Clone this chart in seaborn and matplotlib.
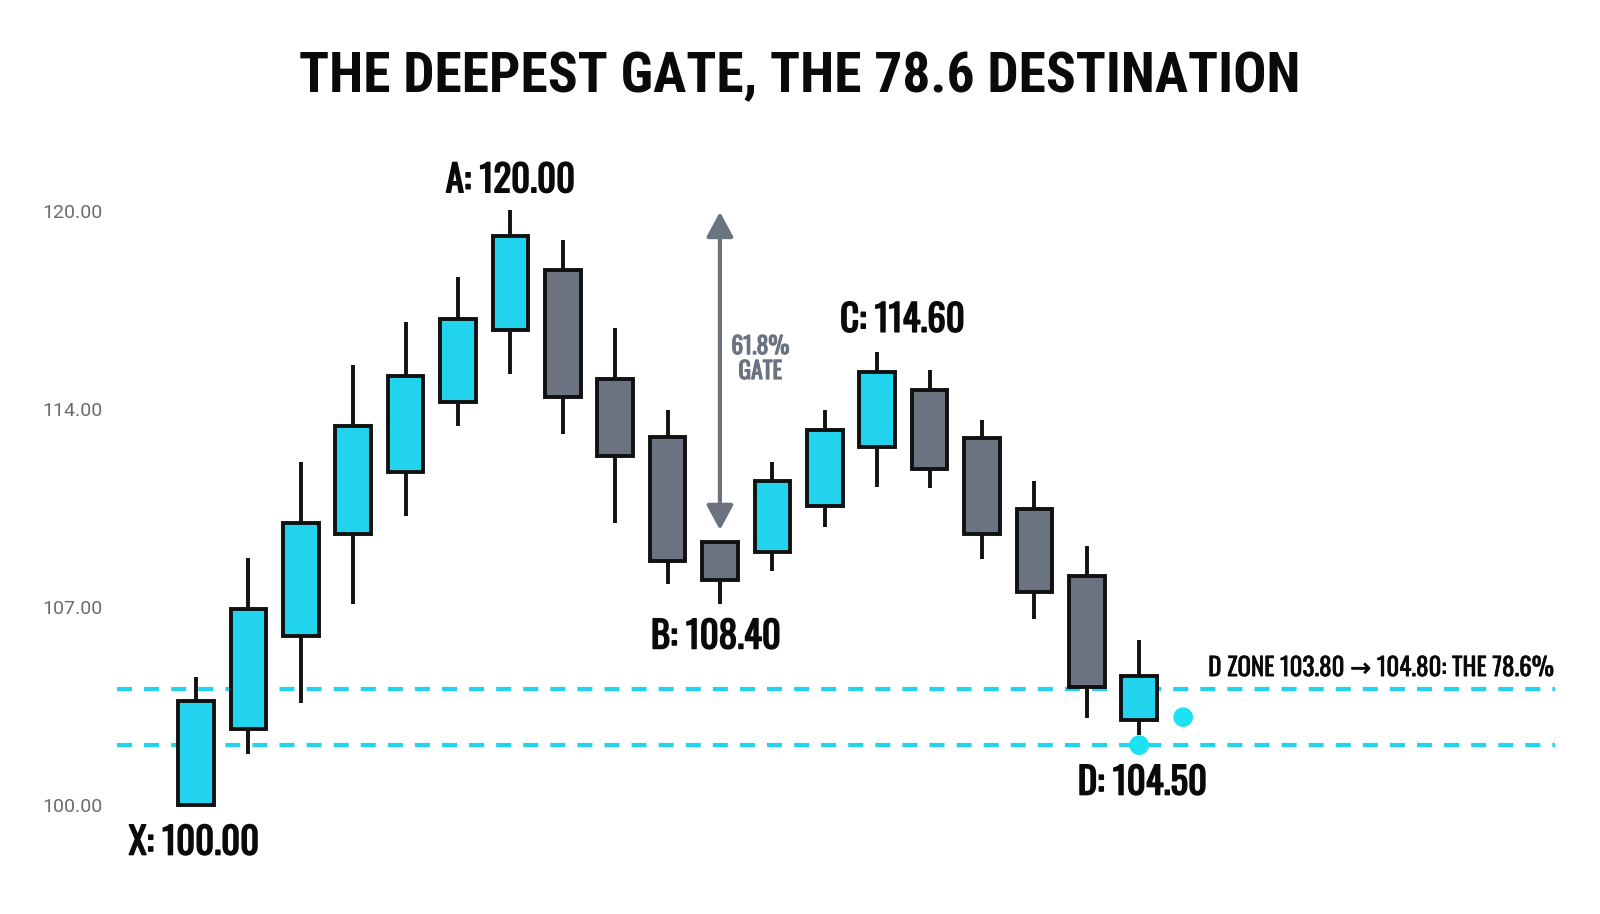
import matplotlib
matplotlib.use("Agg")
import matplotlib.pyplot as plt
import matplotlib.patheffects as pe
import seaborn as sns
import pandas as pd

# candle data
opens  = [100.00, 102.69, 105.97, 109.58, 111.77, 114.26, 116.79, 118.91, 115.06, 113.01,
          109.30, 108.94, 110.57, 112.65, 114.65, 112.97, 110.46, 108.09, 103.00]
highs  = [104.52, 108.73, 112.12, 115.55, 117.06, 118.66, 121.01, 119.95, 116.87, 113.96,
          109.30, 112.12, 113.96, 116.01, 115.38, 113.61, 111.45, 109.16, 105.83]
lows   = [100.00, 101.80, 103.61, 107.11, 110.22, 113.40, 115.24, 113.11, 109.97, 107.81,
          107.11, 108.27, 109.83, 111.24, 111.19, 108.71, 106.57, 103.08, 102.47]
closes = [103.68, 106.93, 109.97, 113.40, 115.16, 117.18, 120.11, 114.42, 112.34, 108.63,
          107.95, 111.45, 113.26, 115.31, 111.88, 109.58, 107.53, 104.18, 104.56]

zone_levels = [104.10, 102.12]
dot_x = [18, 18.84]
dot_y = [102.12, 103.11]
gate_from, gate_to = 109.72, 120.96

ytick_pos = [100, 107, 114, 121]
ytick_labels = ["100.00", "107.00", "114.00", "120.00"]

BLUE = "#22d3ee"
GRAY = "#6b7280"
EDGE = "#111111"
INK = "#0a0a0a"
LABEL_FONT = ["Oswald", "Roboto Condensed", "DejaVu Sans"]

df = pd.DataFrame({"o": opens, "h": highs, "l": lows, "c": closes})
df["i"] = range(len(df))
df["up"] = df["c"] >= df["o"]

sns.set_theme(style="white")
plt.rcParams["font.family"] = ["Roboto Condensed", "DejaVu Sans"]

fig = plt.figure(figsize=(16, 9.14), dpi=100)
ax = fig.add_axes([0.073, 0.059, 0.899, 0.777])

# wicks
ax.vlines(df["i"], df["l"], df["h"], color=EDGE, lw=2.8, zorder=2)
# bodies
bottoms = df[["o", "c"]].min(axis=1)
heights = (df["c"] - df["o"]).abs()
ax.bar(df["i"], heights, bottom=bottoms, width=0.68,
       color=[BLUE if u else GRAY for u in df["up"]],
       edgecolor=EDGE, linewidth=2.8, zorder=3)

# D zone
for lvl in zone_levels:
    ax.axhline(lvl, color=BLUE, lw=3, dashes=(3.6, 2.9), zorder=1)
sns.scatterplot(x=dot_x, y=dot_y, ax=ax, s=200, color="#1de2f2", edgecolor="none", zorder=4)

# 61.8% gate arrow
ax.annotate("", xy=(10, gate_to), xytext=(10, gate_from),
            arrowprops=dict(arrowstyle="<|-|>,head_length=0.5,head_width=0.27",
                            color=GRAY, lw=3, mutation_scale=30, shrinkA=0, shrinkB=0))
ax.text(10.77, 115.76, "61.8%\nGATE", color=GRAY, fontsize=17, family=LABEL_FONT,
        ha="center", va="center", linespacing=1.1,
        path_effects=[pe.withStroke(linewidth=0.8, foreground=GRAY)])

# pivot labels
lab = dict(fontsize=26.5, color=INK, ha="center", va="center", family=LABEL_FONT,
           path_effects=[pe.withStroke(linewidth=1.1, foreground=INK)])
ax.text(-0.04, 98.66, "X: 100.00", **lab)
ax.text(6.0, 122.06, "A: 120.00", **lab)
ax.text(9.92, 105.94, "B: 108.40", **lab)
ax.text(13.48, 117.13, "C: 114.60", **lab)
ax.text(18.06, 100.78, "D: 104.50", **lab)
ax.text(25.94, 104.56, "D ZONE 103.80 \u2192 104.80: THE 78.6%", fontsize=18,
        family=LABEL_FONT, color=INK, ha="right", va="baseline",
        path_effects=[pe.withStroke(linewidth=0.45, foreground=INK)])

ax.set_xlim(-1.51, 25.94)
ax.set_ylim(98.06, 123.15)
ax.set_xticks([])
ax.set_yticks(ytick_pos)
ax.set_yticklabels(ytick_labels, fontfamily="Roboto", fontsize=14, color="#6b6b6b")
ax.tick_params(axis="y", length=0, pad=10)
sns.despine(ax=ax, left=True, bottom=True)
ax.grid(False)

fig.suptitle("THE DEEPEST GATE, THE 78.6 DESTINATION", x=0.5, y=0.916, va="center",
             fontsize=40, fontweight="bold", color=INK)

fig.savefig("out.png", dpi=100, facecolor="white")
